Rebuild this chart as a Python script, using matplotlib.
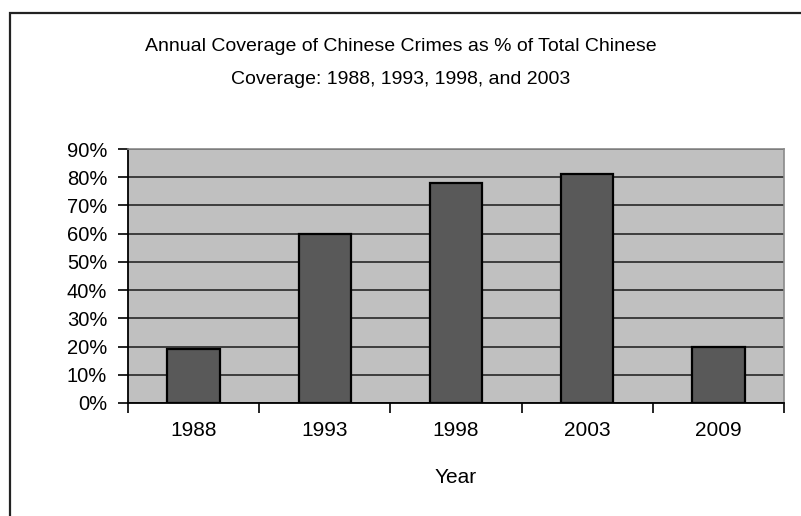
import matplotlib
matplotlib.use("Agg")
import matplotlib.pyplot as plt
from matplotlib.patches import Rectangle
from matplotlib.ticker import FuncFormatter

# Data
years = ["1988", "1993", "1998", "2003", "2009"]
share_pct = [19, 60, 78, 81, 20]
y_ticks = [0, 10, 20, 30, 40, 50, 60, 70, 80, 90]

title_text = ("Annual Coverage of Chinese Crimes as % of Total Chinese\n"
              "Coverage: 1988, 1993, 1998, and 2003")
x_label = "Year"

plt.rcParams["font.family"] = ["Liberation Sans", "DejaVu Sans"]

fig = plt.figure(figsize=(8.01, 5.16), dpi=100)
fig.patch.set_facecolor("white")

# Outer chart frame (open to the right and bottom)
fig.add_artist(Rectangle((10 / 801, -0.1), 1.2, 1 - 13 / 516 + 0.1,
                         transform=fig.transFigure, fill=False,
                         edgecolor="#222222", linewidth=1.6))

ax = fig.add_axes([128 / 801, 1 - 403 / 516, (784 - 128) / 801, (403 - 149) / 516])
ax.set_facecolor("#c0c0c0")

x = range(len(years))
ax.bar(x, share_pct, width=0.40, color="#595959", edgecolor="black",
       linewidth=1.6, zorder=3)

ax.set_xlim(-0.5, len(years) - 0.5)
ax.set_ylim(0, 90)
ax.set_yticks(y_ticks)
ax.yaxis.set_major_formatter(FuncFormatter(lambda v, p: f"{int(v)}%"))
ax.grid(axis="y", color="#333333", linewidth=1.3, zorder=1)
ax.set_axisbelow(True)

# category labels centred, tick marks on category boundaries
ax.set_xticks(list(x))
ax.set_xticklabels(years)
ax.set_xticks([i + 0.5 for i in range(-1, len(years))], minor=True)
ax.tick_params(axis="x", which="major", length=0, pad=13, labelsize=15)
ax.tick_params(axis="x", which="minor", length=7, width=1.2, color="black",
               direction="out")
ax.tick_params(axis="y", length=7, width=1.2, color="black", direction="out",
               labelsize=14.5, pad=8)

for side in ("top", "right"):
    ax.spines[side].set_color("#8a8a8a")
    ax.spines[side].set_linewidth(1.2)
for side in ("left", "bottom"):
    ax.spines[side].set_color("black")
    ax.spines[side].set_linewidth(1.3)

ax.set_xlabel(x_label, fontsize=15, labelpad=20)

fig.text(0.5, 1 - 63 / 516, title_text, ha="center", va="center",
         fontsize=14, linespacing=2.2)

fig.savefig("out.png", dpi=100, facecolor="white")
